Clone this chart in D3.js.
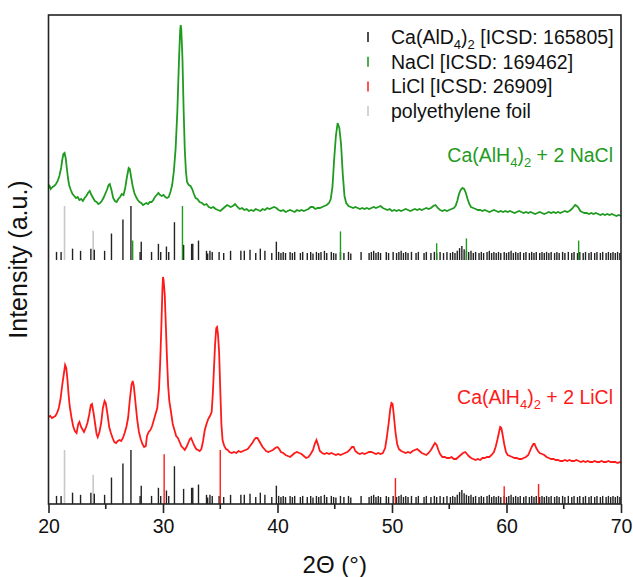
<!DOCTYPE html>
<html>
<head>
<meta charset="utf-8">
<script src="https://cdn.jsdelivr.net/npm/d3@7"></script>
<style>
  body { margin: 0; background: #fff; }
  text { font-family: "Liberation Sans", Arial, sans-serif; }
</style>
</head>
<body>
<div id="chart"></div>
<script>
// Ca(AlH4)2 + 2 NaCl pattern, [2theta, intensity a.u.]
const naclCurve = [
  [20.0,316],[20.1,318],[20.2,315],[20.35,317],[20.5,318],[20.65,320],[20.8,323],[20.95,328],
  [21.1,336],[21.2,344],[21.3,350],[21.4,351],[21.5,346],[21.6,336],[21.7,326],[21.8,319],
  [21.95,314],[22.1,310],[22.25,308],[22.4,306],[22.55,307],[22.7,304],[22.85,305],[23.0,303],
  [23.15,306],[23.3,308],[23.45,311],[23.6,313],[23.75,309],[23.9,306],[24.05,303],[24.2,302],
  [24.35,300],[24.5,301],[24.65,303],[24.8,306],[24.95,310],[25.1,314],[25.25,319],[25.35,320],
  [25.5,314],[25.65,306],[25.8,303],[25.95,302],[26.1,305],[26.25,307],[26.4,310],[26.55,309],
  [26.7,316],[26.85,327],[27.0,336],[27.1,335],[27.2,328],[27.35,318],[27.5,311],[27.65,307],
  [27.8,304],[27.95,302],[28.1,301],[28.25,299],[28.4,300],[28.55,301],[28.7,300],[28.85,302],
  [29.0,302],[29.15,304],[29.3,307],[29.45,309],[29.6,311],[29.75,309],[29.9,308],[30.05,309],
  [30.2,307],[30.35,306],[30.5,307],[30.65,312],[30.8,319],[30.95,333],[31.1,355],[31.25,392],
  [31.4,445],[31.5,474],[31.55,479],[31.6,474],[31.7,445],[31.8,395],[31.9,355],[32.0,333],
  [32.1,322],[32.25,319],[32.4,318],[32.55,315],[32.7,310],[32.85,306],[33.0,305],[33.2,302],
  [33.4,301],[33.6,299],[33.8,300],[34.0,297],[34.2,296],[34.4,297],[34.6,295],[34.8,294],
  [35.0,293],[35.2,295],[35.4,297],[35.6,299],[35.75,298],[35.9,297],[36.1,298],[36.3,300],
  [36.5,297],[36.7,295],[36.9,296],[37.1,294],[37.3,295],[37.5,293],[37.7,294],[37.9,293],
  [38.1,295],[38.3,294],[38.5,293],[38.7,295],[38.9,294],[39.1,296],[39.3,295],[39.5,296],
  [39.7,297],[39.9,296],[40.1,294],[40.3,293],[40.5,294],[40.7,292],[40.9,293],[41.1,294],
  [41.3,293],[41.5,292],[41.7,294],[41.9,293],[42.1,294],[42.3,293],[42.5,294],[42.7,295],
  [42.9,297],[43.1,297],[43.3,295],[43.5,296],[43.7,296],[43.9,297],[44.1,298],[44.3,299],
  [44.5,301],[44.65,305],[44.8,317],[44.95,345],[45.1,368],[45.25,381],[45.4,376],[45.55,360],
  [45.7,330],[45.85,308],[46.0,301],[46.2,298],[46.4,297],[46.6,296],[46.8,297],[47.0,296],
  [47.2,295],[47.4,296],[47.6,295],[47.8,296],[48.0,295],[48.2,296],[48.4,297],[48.6,296],
  [48.8,297],[49.0,298],[49.2,296],[49.4,295],[49.6,294],[49.8,295],[50.0,293],[50.2,294],
  [50.4,293],[50.6,294],[50.8,293],[51.0,294],[51.2,295],[51.4,294],[51.6,293],[51.8,294],
  [52.0,295],[52.2,294],[52.4,295],[52.6,294],[52.8,295],[53.0,296],[53.2,295],[53.4,296],
  [53.6,298],[53.8,299],[54.0,296],[54.2,294],[54.4,293],[54.6,294],[54.8,293],[55.0,294],
  [55.2,295],[55.4,296],[55.55,298],[55.7,303],[55.85,310],[56.0,314],[56.15,316],[56.3,315],
  [56.45,311],[56.6,305],[56.75,300],[56.9,297],[57.1,296],[57.3,295],[57.5,294],[57.7,294],
  [57.9,293],[58.1,294],[58.3,293],[58.5,292],[58.7,293],[58.9,294],[59.1,293],[59.3,292],
  [59.5,293],[59.7,292],[59.9,293],[60.1,292],[60.3,293],[60.5,292],[60.7,291],[60.9,292],
  [61.1,293],[61.3,292],[61.5,291],[61.7,292],[61.9,291],[62.1,292],[62.3,291],[62.5,290],
  [62.7,291],[62.9,292],[63.1,291],[63.3,290],[63.5,291],[63.7,292],[63.9,291],[64.1,292],
  [64.3,291],[64.5,292],[64.7,291],[64.9,292],[65.1,293],[65.3,292],[65.5,293],[65.7,295],
  [65.85,297],[66.0,299],[66.15,298],[66.3,296],[66.45,293],[66.6,292],[66.8,291],[67.0,291],
  [67.2,290],[67.4,291],[67.6,290],[67.8,291],[68.0,290],[68.2,289],[68.4,290],[68.6,289],
  [68.8,290],[69.0,289],[69.2,290],[69.4,289],[69.6,288],[69.8,289],[70.0,288]
];

// Ca(AlH4)2 + 2 LiCl pattern
const liclCurve = [
  [20.0,87],[20.15,88],[20.3,86],[20.45,87],[20.6,88],[20.75,91],[20.9,96],[21.05,105],
  [21.2,119],[21.35,131],[21.45,139],[21.55,136],[21.65,125],[21.75,110],[21.85,98],[22.0,87],
  [22.15,78],[22.3,73],[22.45,71],[22.6,80],[22.7,82],[22.85,77],[23.0,74],[23.1,72],
  [23.25,76],[23.4,81],[23.55,89],[23.7,99],[23.8,100],[23.95,90],[24.1,78],[24.2,70],
  [24.3,67],[24.45,72],[24.6,81],[24.75,96],[24.9,103],[25.0,101],[25.15,90],[25.3,77],
  [25.45,71],[25.6,66],[25.75,62],[25.9,61],[26.05,63],[26.2,64],[26.35,63],[26.5,66],
  [26.65,71],[26.8,77],[26.95,86],[27.1,104],[27.25,119],[27.35,123],[27.45,118],[27.6,101],
  [27.75,84],[27.9,72],[28.05,65],[28.2,60],[28.35,57],[28.5,58],[28.6,68],[28.75,72],
  [28.9,74],[29.05,78],[29.2,84],[29.35,90],[29.5,96],[29.65,115],[29.75,140],[29.85,175],
  [29.95,215],[30.0,227],[30.05,224],[30.15,210],[30.25,178],[30.35,145],[30.45,118],[30.55,103],
  [30.7,92],[30.85,80],[31.0,74],[31.15,68],[31.3,66],[31.45,62],[31.6,58],[31.75,56],
  [31.9,54],[32.05,57],[32.2,61],[32.35,65],[32.45,66],[32.6,62],[32.75,58],[32.9,55],
  [33.05,54],[33.2,53],[33.35,55],[33.5,63],[33.65,74],[33.8,80],[33.95,85],[34.1,88],
  [34.25,92],[34.35,110],[34.45,135],[34.55,160],[34.65,176],[34.72,177],[34.8,170],[34.9,152],
  [35.0,115],[35.1,80],[35.2,64],[35.35,58],[35.5,55],[35.65,54],[35.8,52],[36.0,51],
  [36.2,52],[36.4,51],[36.6,53],[36.8,52],[37.0,53],[37.2,54],[37.4,55],[37.6,58],
  [37.8,61],[37.95,64],[38.1,66],[38.25,66],[38.4,63],[38.55,60],[38.7,57],[38.85,55],
  [39.0,53],[39.2,52],[39.4,53],[39.6,54],[39.8,56],[40.0,57],[40.15,55],[40.3,52],
  [40.5,51],[40.7,49],[40.9,48],[41.1,47],[41.3,49],[41.5,51],[41.7,52],[41.9,51],
  [42.1,50],[42.3,48],[42.5,46],[42.7,47],[42.9,50],[43.1,54],[43.25,60],[43.4,64],
  [43.55,59],[43.7,53],[43.9,51],[44.1,50],[44.3,51],[44.5,50],[44.7,51],[44.9,50],
  [45.1,49],[45.3,50],[45.5,49],[45.7,50],[45.9,51],[46.1,52],[46.3,54],[46.5,57],
  [46.65,57],[46.8,53],[47.0,51],[47.2,50],[47.4,51],[47.6,50],[47.8,51],[48.0,52],
  [48.2,52],[48.4,51],[48.6,50],[48.8,51],[49.0,50],[49.2,51],[49.4,56],[49.55,67],
  [49.7,80],[49.85,95],[49.95,101],[50.05,100],[50.15,90],[50.3,72],[50.45,60],[50.6,55],
  [50.8,53],[51.0,52],[51.2,51],[51.4,52],[51.6,51],[51.8,53],[52.0,54],[52.2,55],
  [52.4,53],[52.6,51],[52.8,50],[53.0,49],[53.2,51],[53.4,54],[53.6,58],[53.75,61],
  [53.9,59],[54.05,54],[54.2,50],[54.4,47],[54.6,47],[54.8,46],[55.0,46],[55.2,47],
  [55.4,45],[55.6,45],[55.8,47],[56.0,49],[56.2,51],[56.4,52],[56.55,50],[56.7,48],
  [56.9,46],[57.1,45],[57.3,44],[57.5,45],[57.7,44],[57.9,46],[58.1,46],[58.3,47],
  [58.5,47],[58.7,49],[58.9,52],[59.05,57],[59.2,64],[59.35,72],[59.45,77],[59.55,76],
  [59.65,70],[59.8,60],[59.95,52],[60.1,49],[60.3,48],[60.5,47],[60.7,46],[60.9,46],
  [61.1,45],[61.3,45],[61.5,46],[61.7,47],[61.9,49],[62.05,53],[62.2,57],[62.35,60],
  [62.45,60],[62.6,56],[62.75,53],[62.9,51],[63.1,50],[63.3,49],[63.5,47],[63.7,46],
  [63.9,45],[64.1,45],[64.3,44],[64.5,44],[64.7,43],[64.9,43],[65.1,44],[65.3,43],
  [65.5,44],[65.7,43],[65.9,43],[66.1,44],[66.3,43],[66.5,42],[66.7,43],[66.9,42],
  [67.1,43],[67.3,42],[67.5,42],[67.7,43],[67.9,42],[68.1,42],[68.3,43],[68.5,42],
  [68.7,42],[68.9,43],[69.1,42],[69.3,42],[69.5,42],[69.7,41],[69.9,42],[70.0,41]
];

// reference reflections: [2theta, relative intensity %]
const caAlD4Refs = [
  [20.7,15],[21.1,15],[22.1,21],[22.8,17],[23.7,21],[24.0,19],[24.9,17],[25.5,49],[26.5,75],
  [27.2,100],[28.0,15],[28.1,34],[29.0,15],[29.6,30],[29.8,15],[30.3,25],[30.5,15],[31.0,70],
  [31.8,28],[32.5,30],[32.6,30],[33.1,36],[33.8,17],[33.9,12],[34.1,17],[34.3,15],[34.9,15],
  [35.3,13],[35.9,17],[36.8,17],[37.1,17],[37.6,19],[38.1,13],[38.5,21],[38.9,17],[39.5,13],
  [39.9,34],[40.1,15],[40.3,13],[40.5,15],[40.7,13],[41.1,15],[41.3,13],[41.5,15],[42.0,13],
  [42.2,15],[42.6,13],[42.9,15],[43.1,12],[43.4,15],[43.6,13],[43.8,15],[44.1,17],[44.3,13],
  [44.7,15],[44.9,13],[45.1,12],[45.5,15],[45.8,13],[46.2,15],[46.4,12],[47.3,15],[48.0,13],
  [48.2,15],[48.4,17],[48.6,13],[48.8,15],[49.0,13],[49.5,15],[49.7,13],[50.1,15],[50.4,13],
  [50.6,15],[50.8,17],[51.0,13],[51.2,15],[51.4,13],[51.7,15],[52.1,13],[52.3,15],[52.8,13],
  [53.0,15],[53.4,13],[53.7,15],[53.9,13],[54.2,15],[54.5,13],[54.8,15],[55.1,13],[55.3,15],
  [55.5,13],[55.7,17],[55.9,22],[56.1,26],[56.3,20],[56.5,17],[56.7,15],[56.9,17],[57.1,13],
  [57.3,15],[57.6,13],[57.8,15],[58.0,13],[58.3,15],[58.5,17],[58.7,13],[58.9,15],[59.1,13],
  [59.3,15],[59.5,13],[59.8,15],[60.0,13],[60.2,15],[60.4,17],[60.6,13],[60.8,15],[61.0,13],
  [61.2,15],[61.5,13],[61.7,15],[62.0,13],[62.2,15],[62.4,13],[62.6,15],[62.9,13],[63.1,15],
  [63.3,13],[63.5,15],[63.7,13],[63.9,15],[64.2,13],[64.4,15],[64.6,13],[64.9,15],[65.1,13],
  [65.4,15],[65.7,13],[65.9,15],[66.2,13],[66.4,15],[66.7,13],[66.9,15],[67.2,13],[67.4,15],
  [67.7,13],[67.9,15],[68.2,13],[68.4,15],[68.7,13],[68.9,15],[69.1,13],[69.3,15],[69.5,13],
  [69.7,15],[69.9,13]
];
const naclRefs = [[27.35,36],[31.7,100],[45.5,53],[53.9,31],[56.5,40],[66.3,36]];
const liclRefs = [[30.1,92],[35.0,100],[50.3,48],[59.8,33],[62.8,37]];
const peRefs = [[21.4,100],[23.9,54]];

const xTicks = [20, 30, 40, 50, 60, 70];
const xMinorTicks = [25, 35, 45, 55, 65];

const legendItems = [
  {label: ["Ca(AlD", "4", ")", "2", " [ICSD: 165805]"], color: "#222"},
  {label: ["NaCl [ICSD: 169462]"], color: "#1f9b1f"},
  {label: ["LiCl [ICSD: 26909]"], color: "#ff2a2a"},
  {label: ["polyethylene foil"], color: "#c8c8c8"}
];

const W = 633, H = 577;
const margin = {top: 15, right: 12, bottom: 73, left: 48.5};
const width = W - margin.left - margin.right;
const height = H - margin.top - margin.bottom;

const svg = d3.select('#chart').append('svg')
  .attr('width', W).attr('height', H);

const g = svg.append('g')
  .attr('transform', `translate(${margin.left},${margin.top})`);

const x = d3.scaleLinear().domain([20, 70]).range([0, width]);
const y = d3.scaleLinear().domain([0, 489]).range([height, 0]);
// stick heights: 100 % -> 54 a.u.
const stick = d3.scaleLinear().domain([0, 100]).range([0, 54]);

const green = "#1f9b1f", red = "#ff1a1a";

// Reference stick patterns; offset = baseline of each pattern
function drawSticks(refs, offset, color, w) {
  g.append('g').selectAll('line')
    .data(refs)
    .enter().append('line')
    .attr('x1', d => x(d[0])).attr('x2', d => x(d[0]))
    .attr('y1', y(offset)).attr('y2', d => y(offset + stick(d[1])))
    .attr('stroke', color).attr('stroke-width', w);
}

[244, 0].forEach(off => {
  drawSticks(peRefs, off, "#c8c8c8", 1.6);
  drawSticks(caAlD4Refs, off, "#222", 1.4);
});
drawSticks(naclRefs, 244, green, 1.4);
drawSticks(liclRefs, 0, red, 1.4);

const line = d3.line().x(d => x(d[0])).y(d => y(d[1]));

g.append('path').datum(naclCurve)
  .attr('d', line).attr('fill', 'none')
  .attr('stroke', green).attr('stroke-width', 1.8);

g.append('path').datum(liclCurve)
  .attr('d', line).attr('fill', 'none')
  .attr('stroke', red).attr('stroke-width', 1.8);

// frame
g.append('rect')
  .attr('width', width).attr('height', height)
  .attr('fill', 'none').attr('stroke', '#222').attr('stroke-width', 1.6);

// x axis
const xAxis = g.append('g')
  .attr('transform', `translate(0,${height})`)
  .call(d3.axisBottom(x).tickValues(xTicks).tickSize(9).tickPadding(6));
xAxis.select('.domain').remove();
xAxis.selectAll('line').attr('stroke', '#222').attr('stroke-width', 1.6);
xAxis.selectAll('text')
  .style('font-family', '"Liberation Sans", Arial, sans-serif')
  .style('font-size', '19.5px').attr('fill', '#111');

g.append('g')
  .attr('transform', `translate(0,${height})`)
  .selectAll('line').data(xMinorTicks)
  .enter().append('line')
  .attr('x1', d => x(d)).attr('x2', d => x(d))
  .attr('y1', 0).attr('y2', 5)
  .attr('stroke', '#222').attr('stroke-width', 1.6);

// axis titles
svg.append('text')
  .attr('x', margin.left + width / 2).attr('y', 573)
  .attr('text-anchor', 'middle')
  .style('font-size', '24px').attr('fill', '#111')
  .text('2Θ (°)');

svg.append('text')
  .attr('transform', `translate(27,${margin.top + height / 2}) rotate(-90)`)
  .attr('text-anchor', 'middle')
  .style('font-size', '25px').attr('fill', '#111')
  .text('Intensity (a.u.)');

// helper for labels with subscripts
function richText(sel, parts) {
  parts.forEach((p, i) => {
    const sub = i % 2 === 1;
    sel.append('tspan')
      .attr('dy', sub ? 5 : (i > 0 ? -5 : 0))
      .style('font-size', sub ? '13px' : null)
      .text(p);
  });
}

// legend
const legend = svg.append('g');
legendItems.forEach((d, i) => {
  const cy = 37 + i * 24.7;
  legend.append('line')
    .attr('x1', 368).attr('x2', 368)
    .attr('y1', cy - 5).attr('y2', cy + 5)
    .attr('stroke', d.color).attr('stroke-width', 1.6);
  const t = legend.append('text')
    .attr('x', 391).attr('y', cy + 7)
    .style('font-size', '19.5px').attr('fill', '#111');
  richText(t, d.label);
});

// sample labels
const gLab = svg.append('text')
  .attr('x', 613).attr('y', 162).attr('text-anchor', 'end')
  .style('font-size', '19.5px').attr('fill', green);
richText(gLab, ["Ca(AlH", "4", ")", "2", " + 2 NaCl"]);

const rLab = svg.append('text')
  .attr('x', 613).attr('y', 404).attr('text-anchor', 'end')
  .style('font-size', '19.5px').attr('fill', red);
richText(rLab, ["Ca(AlH", "4", ")", "2", " + 2 LiCl"]);
</script>
</body>
</html>
